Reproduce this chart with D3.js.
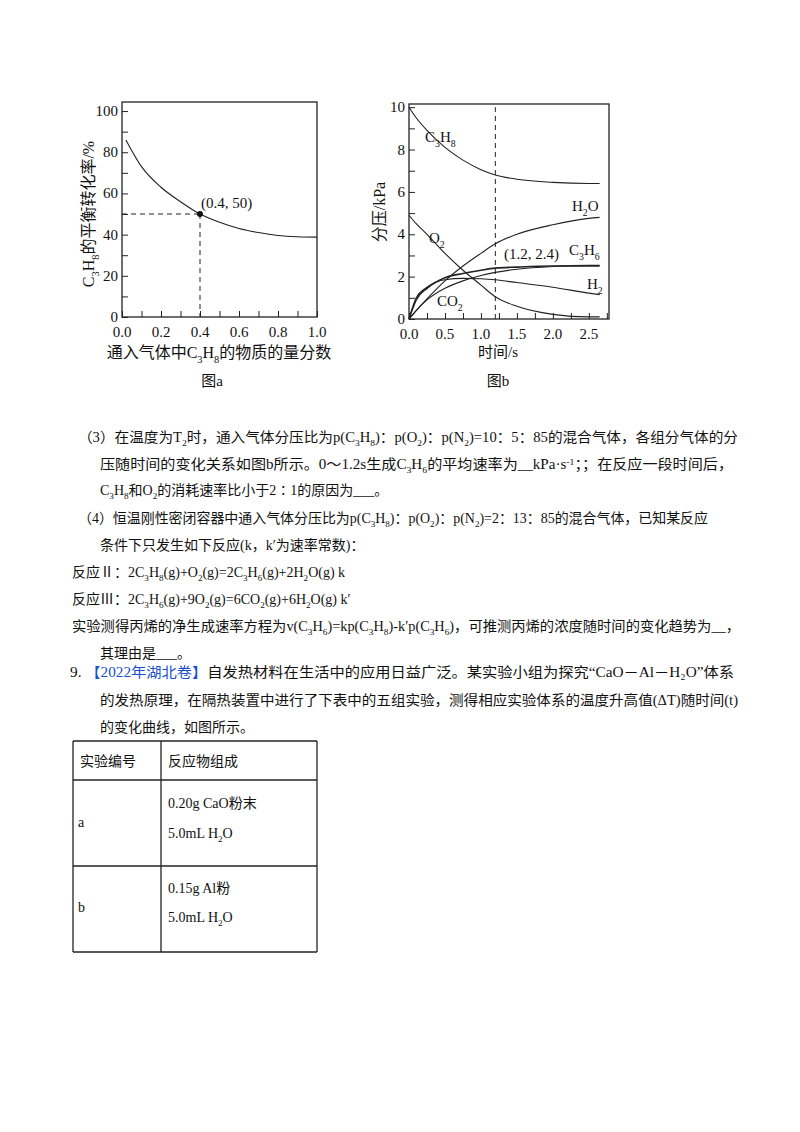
<!DOCTYPE html>
<html><head><meta charset="utf-8">
<script src="https://cdn.jsdelivr.net/npm/d3@7"></script>
<style>body{margin:0;background:#fff}text{font-family:"Liberation Serif","Noto Sans CJK SC",serif;fill:#111}</style>
</head><body>
<script>
// chart a data
const aX = [0.02,0.1,0.2,0.3,0.4,0.5,0.6,0.7,0.8,0.9,1.0];
const aY = [86,73,63,56,50,46,43,41,39.6,39,38.8];
const aTicksX = [0,0.2,0.4,0.6,0.8,1.0];
const aTicksY = [0,20,40,60,80,100];
// chart b data
const bT = [0,0.1,0.25,0.5,0.75,1.0,1.2,1.5,2.0,2.5,2.65];
const bC3H8 = [10,9.5,8.9,8.1,7.5,7.05,6.8,6.6,6.45,6.4,6.4];
const bO2 = [4.9,4.5,4.0,3.1,2.3,1.6,1.05,0.6,0.22,0.1,0.1];
const bH2O = [0,0.4,0.95,1.8,2.5,3.1,3.55,4.0,4.45,4.75,4.8];
const bC3H6 = [0,0.9,1.45,1.95,2.15,2.3,2.4,2.45,2.5,2.5,2.5];
const bH2 = [0,1.0,1.5,1.85,1.92,1.9,1.85,1.72,1.5,1.22,1.15];
const bCO2 = [0,0.4,0.9,1.45,1.8,2.05,2.2,2.35,2.48,2.53,2.53];
const bTicksX = [0,0.5,1.0,1.5,2.0,2.5];
const bTicksY = [0,2,4,6,8,10];

const svg = d3.select("body").append("svg").attr("width",800).attr("height",1132);

// rich text: _{..} subscript, ^{..} superscript
function rich(sel, str, size){
  str = String(str);
  const re = /([_^])\{([^}]*)\}/g; let last=0, m;
  const parts=[];
  while((m=re.exec(str))){ if(m.index>last) parts.push([0,str.slice(last,m.index)]); parts.push([m[1]=="_"?1:-1,m[2]]); last=re.lastIndex; }
  if(last<str.length) parts.push([0,str.slice(last)]);
  let prev=0;
  parts.forEach(p=>{
    const shift = p[0]*size*0.3;
    const t = sel.append("tspan").text(p[1]).attr("dy", shift-prev);
    if(p[0]) t.style("font-size",(size*0.65)+"px");
    prev=shift;
  });
  return sel;
}
function txt(x,y,str,size,opt={}){
  const t = svg.append("text").attr("x",x).attr("y",y).style("font-size",size+"px");
  if(opt.anchor) t.attr("text-anchor",opt.anchor);
  if(opt.len) t.attr("textLength",opt.len).attr("lengthAdjust","spacingAndGlyphs");
  if(opt.rotate) t.attr("transform",`rotate(-90,${x},${y})`);
  rich(t,str,size); return t;
}

function chart(x0,x1,y0,y1,xdom,ydom,xt,yt,xminor,yminor,xfmt,yfmt){
  const x = d3.scaleLinear().domain(xdom).range([x0,x1]);
  const y = d3.scaleLinear().domain(ydom).range([y0,y1]);
  const g = svg.append("g");
  g.append("rect").attr("x",x0).attr("y",y1).attr("width",x1-x0).attr("height",y0-y1)
    .attr("fill","none").attr("stroke","#222").attr("stroke-width",1.3);
  g.append("g").attr("transform",`translate(0,${y0})`)
    .call(d3.axisBottom(x).tickValues(xminor).tickSize(-6).tickFormat(""))
    .call(s=>s.select(".domain").remove());
  g.append("g").attr("transform",`translate(${x0},0)`)
    .call(d3.axisLeft(y).tickValues(yminor).tickSize(-6).tickFormat(""))
    .call(s=>s.select(".domain").remove());
  g.selectAll(".tick line").attr("stroke","#222");
  xt.forEach(v=>txt(x(v),y0+20,xfmt(v),15,{anchor:"middle"}));
  yt.forEach(v=>txt(x0-4,y(v)+5,yfmt(v),15,{anchor:"end"}));
  return {x,y};
}
const line = (s,xs,ys,dash,w)=>svg.append("path").datum(xs.map((v,i)=>[v,ys[i]]))
  .attr("d",d3.line().x(d=>s.x(d[0])).y(d=>s.y(d[1])).curve(d3.curveMonotoneX))
  .attr("fill","none").attr("stroke","#222").attr("stroke-width",w||1.1).attr("stroke-dasharray",dash||null);

// chart a
const A = chart(122,317,317,102,[0,1],[0,104.4],aTicksX,aTicksY,d3.range(0,1.01,0.1),d3.range(0,101,10),
  d=>d.toFixed(1),d=>String(d));
line(A,aX,aY);
line(A,[0,0.4],[50,50],"5,4",1);
line(A,[0.4,0.4],[50,0],"5,4",1);
svg.append("circle").attr("cx",A.x(0.4)).attr("cy",A.y(50)).attr("r",3).attr("fill","#111");
txt(A.x(0.4)+1,A.y(50)-6,"(0.4, 50)",15);
txt(219,358,"通入气体中C_{3}H_{8}的物质的量分数",16,{anchor:"middle"});
txt(94,214,"C_{3}H_{8}的平衡转化率/%",16,{anchor:"middle",rotate:true});
txt(212,386,"图a",15,{anchor:"middle"});

// chart b
const B = chart(409,609,319,104,[0,2.78],[0,10.15],bTicksX,bTicksY,d3.range(0,2.76,0.25),d3.range(0,10.1,1),
  d=>d.toFixed(1),d=>String(d));
[bC3H8,bO2,bH2O,bH2,bCO2].forEach(s=>line(B,bT,s));
line(B,bT,bC3H6,null,1.6);
line(B,[1.2,1.2],[0,10],"5,4",1);
txt(425,142,"C_{3}H_{8}",15);
txt(572,211,"H_{2}O",15);
txt(429,243,"O_{2}",15);
txt(504,259,"(1.2, 2.4)",15);
txt(569,255,"C_{3}H_{6}",15);
txt(587,289,"H_{2}",15);
txt(437,306,"CO_{2}",15);
txt(498,357,"时间/s",15,{anchor:"middle"});
txt(385,212,"分压/kPa",16,{anchor:"middle",rotate:true});
txt(498,386,"图b",15,{anchor:"middle"});

// text
const F=14;
txt(78,442,"（3）在温度为T_{2}时，通入气体分压比为p(C_{3}H_{8})：p(O_{2})：p(N_{2})=10：5：85的混合气体，各组分气体的分",F,{len:660});
txt(100,469,"压随时间的变化关系如图b所示。0～1.2s生成C_{3}H_{6}的平均速率为__kPa·s^{-1}；；在反应一段时间后，",F,{len:633});
txt(100,495,"C_{3}H_{8}和O_{2}的消耗速率比小于2∶1的原因为___。",F);
txt(78,523,"（4）恒温刚性密闭容器中通入气体分压比为p(C_{3}H_{8})：p(O_{2})：p(N_{2})=2：13：85的混合气体，已知某反应",F,{len:630});
txt(100,550,"条件下只发生如下反应(k，k′为速率常数)：",F);
txt(72,577,"反应Ⅱ：2C_{3}H_{8}(g)+O_{2}(g)=2C_{3}H_{6}(g)+2H_{2}O(g) k",F);
txt(72,604,"反应Ⅲ：2C_{3}H_{6}(g)+9O_{2}(g)=6CO_{2}(g)+6H_{2}O(g) k′",F);
txt(72,631,"实验测得丙烯的净生成速率方程为v(C_{3}H_{6})=kp(C_{3}H_{8})-k′p(C_{3}H_{6})，可推测丙烯的浓度随时间的变化趋势为__，",F,{len:668});
txt(100,658,"其理由是___。",F);
const q = txt(70,677,"9.  ",F);
q.append("tspan").text("【2022年湖北卷】").style("fill","#1a4fd0");
q.append("tspan").text("自发热材料在生活中的应用日益广泛。某实验小组为探究“CaO－Al－H₂O”体系").style("fill","#111");
q.attr("textLength",664).attr("lengthAdjust","spacingAndGlyphs");
txt(100,705,"的发热原理，在隔热装置中进行了下表中的五组实验，测得相应实验体系的温度升高值(ΔT)随时间(t)",F,{len:638});
txt(100,732,"的变化曲线，如图所示。",F);

// table
const rows=[741,780,866,952], cols=[73,161,317];
rows.forEach(r=>svg.append("line").attr("x1",cols[0]).attr("x2",cols[2]).attr("y1",r).attr("y2",r).attr("stroke","#222").attr("stroke-width",1.3));
cols.forEach(c=>svg.append("line").attr("x1",c).attr("x2",c).attr("y1",rows[0]).attr("y2",rows[3]).attr("stroke","#222").attr("stroke-width",1.3));
txt(80,766,"实验编号",F); txt(168,766,"反应物组成",F);
txt(78,827,"a",F); txt(168,808,"0.20g CaO粉末",F); txt(168,838,"5.0mL H_{2}O",F);
txt(78,912,"b",F); txt(168,893,"0.15g Al粉",F); txt(168,922,"5.0mL H_{2}O",F);
</script>
</body></html>
